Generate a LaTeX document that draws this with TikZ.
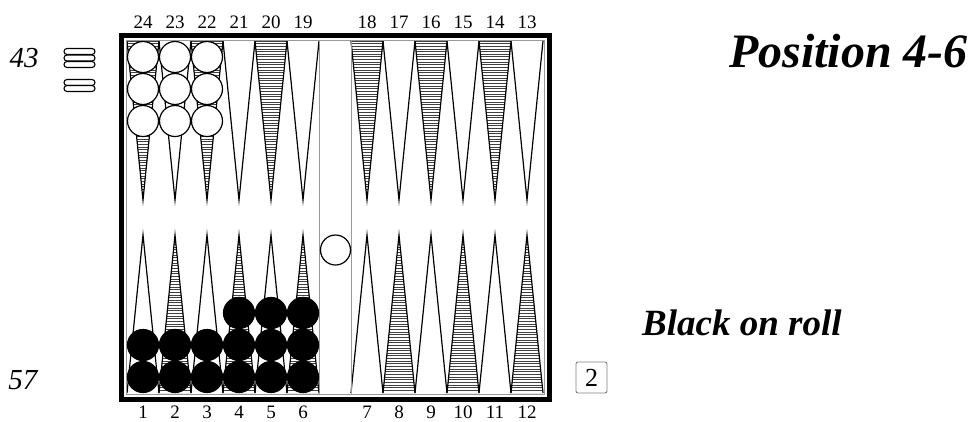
\documentclass[tikz,border=0pt]{standalone}
\usepackage{fontspec}
\setmainfont{Liberation Serif}
\tikzset{
  ptline/.style={draw=black, line width=1.2pt, line join=miter},
  hatchline/.style={draw=black!75, line width=0.9pt},
  wchk/.style={draw=black, fill=white, line width=1.2pt},
  bchk/.style={draw=black, fill=black, line width=1.2pt},
  offchk/.style={draw=black, fill=white, line width=1.1pt, rounded corners=3pt},
  ptnum/.style={font=\fontsize{19}{21}\selectfont, inner sep=0pt, anchor=base},
  score/.style={font=\fontsize{29}{31}\selectfont\itshape, inner sep=0pt},
}
% #1 left x, #2 base y, #3 tip y, #4 shaded (1/0), #5 hatch step (signed)
\newcommand\bgtri[5]{%
  \ifnum#4=1
    \begin{scope}
      \clip (#1,#2) -- (#1+32,#2) -- (#1+16,#3) -- cycle;
      \foreach \k in {0,...,60} {\draw[hatchline] (#1,#2+\k*#5) -- ++(32,0);}
    \end{scope}
  \fi
  \draw[ptline] (#1,#2) -- (#1+16,#3) -- (#1+32,#2);
}
\begin{document}
\begin{tikzpicture}[x=1pt,y=-1pt]
\useasboundingbox (0,0) rectangle (970,421);
\fill[white] (0,0) rectangle (970,421);

% points: top row (24..19 left, 18..13 right), bottom row (1..6 left, 7..12 right)
\foreach \i/\s in {0/1,1/0,2/1,3/0,4/1,5/0} {
  \bgtri{127+32*\i}{41}{200}{\s}{2.65}
  \bgtri{351+32*\i}{41}{200}{\s}{2.65}
}
\foreach \i/\s in {0/0,1/1,2/0,3/1,4/0,5/1} {
  \bgtri{127+32*\i}{393}{235}{\s}{-2.65}
  \bgtri{351+32*\i}{393}{235}{\s}{-2.65}
}

% frame
\draw[gray!80, line width=0.8pt] (126.5,40.5) rectangle (544,394);
\draw[gray!80, line width=0.8pt] (319.5,40.5) -- (319.5,394);
\draw[gray!80, line width=0.8pt] (351,40.5) -- (351,394);
\draw[black, line width=5pt] (121.5,35.5) rectangle (549.5,399.5);

% white checkers on 24, 23, 22
\foreach \x in {143,175,207} {
  \foreach \y in {57,89,121} {
    \draw[wchk] (\x,\y) circle (15.5);
  }
}
% white checker on the bar
\draw[wchk] (335.5,250) circle (15);

% black checkers
\foreach \x in {143,175,207,239,271,303} {
  \draw[bchk] (\x,377) circle (15.5);
  \draw[bchk] (\x,345) circle (15.5);
}
\foreach \x in {239,271,303} {
  \draw[bchk] (\x,313) circle (15.5);
}

% borne-off white checkers
\foreach \y in {48.5,55,61.5,79.5,85.5} {
  \draw[offchk] (64,\y) rectangle (95,\y+6);
}

% point numbers
\foreach \n [count=\i from 0] in {24,23,22,21,20,19} {
  \node[ptnum] (top\n) at (143+32*\i,28) {\n};
}
\foreach \n [count=\i from 0] in {18,17,16,15,14,13} {
  \node[ptnum] (top\n) at (367+32*\i,28) {\n};
}
\foreach \n [count=\i from 0] in {1,2,3,4,5,6} {
  \node[ptnum] (bot\n) at (143+32*\i,418) {\n};
}
\foreach \n [count=\i from 0] in {7,8,9,10,11,12} {
  \node[ptnum] (bot\n) at (367+32*\i,418) {\n};
}

% scores
\node[score] (wscore) at (24,58) {43};
\node[score] (bscore) at (23,380) {57};

% titles
\node[font=\fontsize{48}{50}\selectfont\bfseries\itshape, inner sep=0pt, anchor=base east] (title) at (968,67) {Position 4-6};
\node[font=\fontsize{37}{40}\selectfont\bfseries\itshape, inner sep=0pt, anchor=base west] (roll) at (642,335) {Black on roll};

% cube
\node[draw=gray, line width=0.9pt, rounded corners=2pt, minimum size=31pt, inner sep=0pt, font=\fontsize{26}{28}\selectfont] (cube) at (591.5,377.5) {2};
\end{tikzpicture}
\end{document}
